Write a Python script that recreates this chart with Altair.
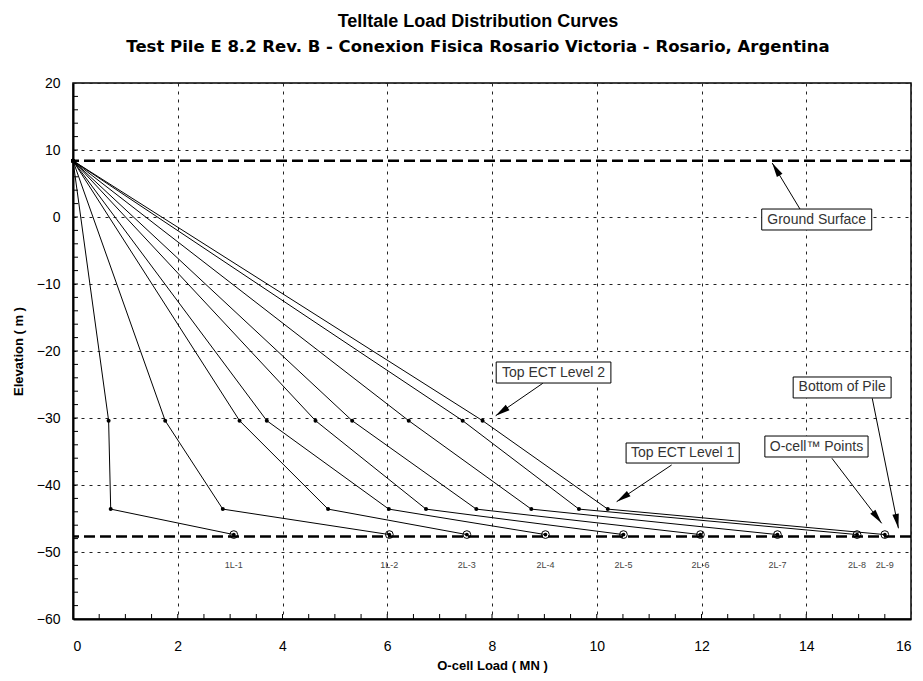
import math
import altair as alt
import pandas as pd

# ---------------- data ----------------
curve_ids = ["1L-1", "1L-2", "2L-3", "2L-4", "2L-5", "2L-6", "2L-7", "2L-8", "2L-9"]
top_elev = 8.4
mid_elev = -30.4
low_elev = -43.6
ocell_elev = -47.4
mid_load = [0.68, 1.76, 3.18, 3.70, 4.63, 5.33, 6.41, 7.44, 7.82]
low_load = [0.72, 2.86, 4.87, 6.03, 6.74, 7.70, 8.75, 9.66, 10.21]
ocell_load = [3.07, 6.04, 7.52, 9.02, 10.51, 11.98, 13.45, 14.97, 15.50]
label_elev = -52.0

ground_elev = 8.4
pile_bottom_elev = -47.7

x_ticks = [0, 2, 4, 6, 8, 10, 12, 14, 16]
y_ticks = [-60, -50, -40, -30, -20, -10, 0, 10, 20]
x_minor = [i * 0.5 for i in range(1, 32)]
y_minor = [-60 + 2 * i for i in range(1, 40)]

ann_text = ["Ground Surface", "Top ECT Level 2", "Top ECT Level 1", "Bottom of Pile", "O-cell\u2122 Points"]
box_x1 = [13.15, 8.08, 10.56, 13.75, 13.21]
box_x2 = [15.25, 10.27, 12.72, 15.62, 15.18]
box_y1 = [1.19, -21.64, -33.73, -23.88, -32.69]
box_y2 = [-1.94, -24.78, -36.72, -27.01, -35.82]
arrow_x0 = [13.88, 8.97, 11.43, 15.26, 14.49]
arrow_y0 = [1.19, -24.82, -37.01, -27.06, -36.01]
arrow_x1 = [13.35, 8.07, 10.38, 15.76, 15.44]
arrow_y1 = [8.06, -29.66, -42.49, -46.46, -45.72]

# ---------------- layout ----------------
W, H = 838, 536
XD = [0, 16]
YD = [-60, 20]
PX_X = W / (XD[1] - XD[0])
PX_Y = H / (YD[1] - YD[0])
FONT = "Liberation Sans, Arial, sans-serif"
SUB_FONT = "DejaVu Sans, Liberation Sans, sans-serif"

rows = []
for i, cid in enumerate(curve_ids):
    rows.append(dict(curve=cid, order=0, load=0.0, elev=top_elev))
    rows.append(dict(curve=cid, order=1, load=mid_load[i], elev=mid_elev))
    rows.append(dict(curve=cid, order=2, load=low_load[i], elev=low_elev))
    rows.append(dict(curve=cid, order=3, load=ocell_load[i], elev=ocell_elev))
curves = pd.DataFrame(rows)
small_pts = curves[curves["order"] < 3]
ocell = pd.DataFrame(dict(curve=curve_ids, load=ocell_load, elev=[ocell_elev] * 9,
                          lab_elev=[label_elev] * 9))

angles = []
for i in range(len(ann_text)):
    dxp = (arrow_x1[i] - arrow_x0[i]) * PX_X
    dyp = -(arrow_y1[i] - arrow_y0[i]) * PX_Y
    angles.append(math.degrees(math.atan2(dxp, -dyp)) % 360)
ann = pd.DataFrame(dict(text=ann_text, bx1=box_x1, bx2=box_x2, by1=box_y1, by2=box_y2,
                        ax0=arrow_x0, ay0=arrow_y0, ax1=arrow_x1, ay1=arrow_y1, ang=angles))
ann["tx"] = (ann["bx1"] + ann["bx2"]) / 2
ann["ty"] = (ann["by1"] + ann["by2"]) / 2

xscale = alt.Scale(domain=XD, nice=False, zero=False)
yscale = alt.Scale(domain=YD, nice=False, zero=False)

X = alt.X("load:Q", scale=xscale, title="O-cell Load  ( MN )",
          axis=alt.Axis(values=x_ticks, grid=True, ticks=False, tickSize=0, labelPadding=20,
                        titlePadding=6, labelFontSize=14, titleFontSize=13, titleFontWeight="bold"))
Y = alt.Y("elev:Q", scale=yscale, title="Elevation  ( m )",
          axis=alt.Axis(values=y_ticks, grid=True, ticks=False, tickSize=0, labelPadding=13,
                        titlePadding=11, labelFontSize=14, titleFontSize=13, titleFontWeight="bold"))

lines = alt.Chart(curves).mark_line(color="black", strokeWidth=1).encode(
    x=X, y=Y, detail="curve:N", order="order:Q")

dots = alt.Chart(small_pts).mark_point(filled=True, color="black", size=16, opacity=1).encode(
    x="load:Q", y="elev:Q")

oc_ring = alt.Chart(ocell).mark_point(filled=False, color="black", size=60, strokeWidth=1,
                                      opacity=1).encode(x="load:Q", y="elev:Q")
oc_dot = alt.Chart(ocell).mark_point(filled=True, color="black", size=14, opacity=1).encode(
    x="load:Q", y="elev:Q")
oc_lab = alt.Chart(ocell).mark_text(fontSize=9, color="#444", font=FONT).encode(
    x="load:Q", y=alt.Y("lab_elev:Q"), text="curve:N")

dash_df = pd.DataFrame(dict(elev=[ground_elev, pile_bottom_elev]))
dashed = alt.Chart(dash_df).mark_rule(color="black", strokeWidth=2.5, strokeDash=[11, 5]).encode(
    y="elev:Q")

ymin_df = pd.DataFrame(dict(elev=y_minor))
ytick_marks = alt.Chart(ymin_df).mark_rule(color="black", strokeWidth=1).encode(
    y="elev:Q", x=alt.value(0), x2=alt.value(5))
xmin_df = pd.DataFrame(dict(load=x_minor))
xtick_marks = alt.Chart(xmin_df).mark_rule(color="black", strokeWidth=1).encode(
    x="load:Q", y=alt.value(H), y2=alt.value(H - 5))

arrow_lines = alt.Chart(ann).mark_rule(color="black", strokeWidth=1).encode(
    x="ax0:Q", y="ay0:Q", x2="ax1:Q", y2="ay1:Q")
arrow_heads = alt.Chart(ann).mark_point(filled=True, color="black", opacity=1, size=210,
                                        shape="M0,0L0.45,2L-0.45,2Z").encode(
    x="ax1:Q", y="ay1:Q", angle=alt.Angle("ang:Q", scale=None))
boxes = alt.Chart(ann).mark_rect(fill="white", stroke="black", strokeWidth=1).encode(
    x="bx1:Q", x2="bx2:Q", y="by1:Q", y2="by2:Q")
box_text = alt.Chart(ann).mark_text(fontSize=14, color="#333", font=FONT, baseline="middle").encode(
    x="tx:Q", y="ty:Q", text="text:N")

chart = alt.layer(
    dashed, ytick_marks, xtick_marks, lines, dots, oc_ring, oc_dot, oc_lab,
    arrow_lines, boxes, box_text, arrow_heads
).properties(
    width=W, height=H,
    autosize=alt.AutoSizeParams(type="none"),
    padding={"left": 65, "top": 75, "right": 4, "bottom": 55},
    title=alt.TitleParams(
        text="Telltale Load Distribution Curves",
        subtitle="Test Pile E 8.2 Rev. B - Conexion Fisica Rosario Victoria - Rosario, Argentina",
        fontSize=18, fontWeight="bold", color="black", font=FONT,
        subtitleFontSize=16.5, subtitleFontWeight="bold", subtitleColor="black", subtitleFont=SUB_FONT,
        subtitlePadding=8, anchor="middle", offset=21, dx=-14,
    ),
).configure(font=FONT).configure_view(
    stroke="black", strokeWidth=1.5
).configure_axis(
    domainColor="black", domainWidth=2, gridColor="#222", gridDash=[3, 5], gridWidth=1,
    labelColor="black", titleColor="black", labelFont=FONT, titleFont=FONT,
)

chart.save("out.html", embed_options={"renderer": "svg", "actions": False})
